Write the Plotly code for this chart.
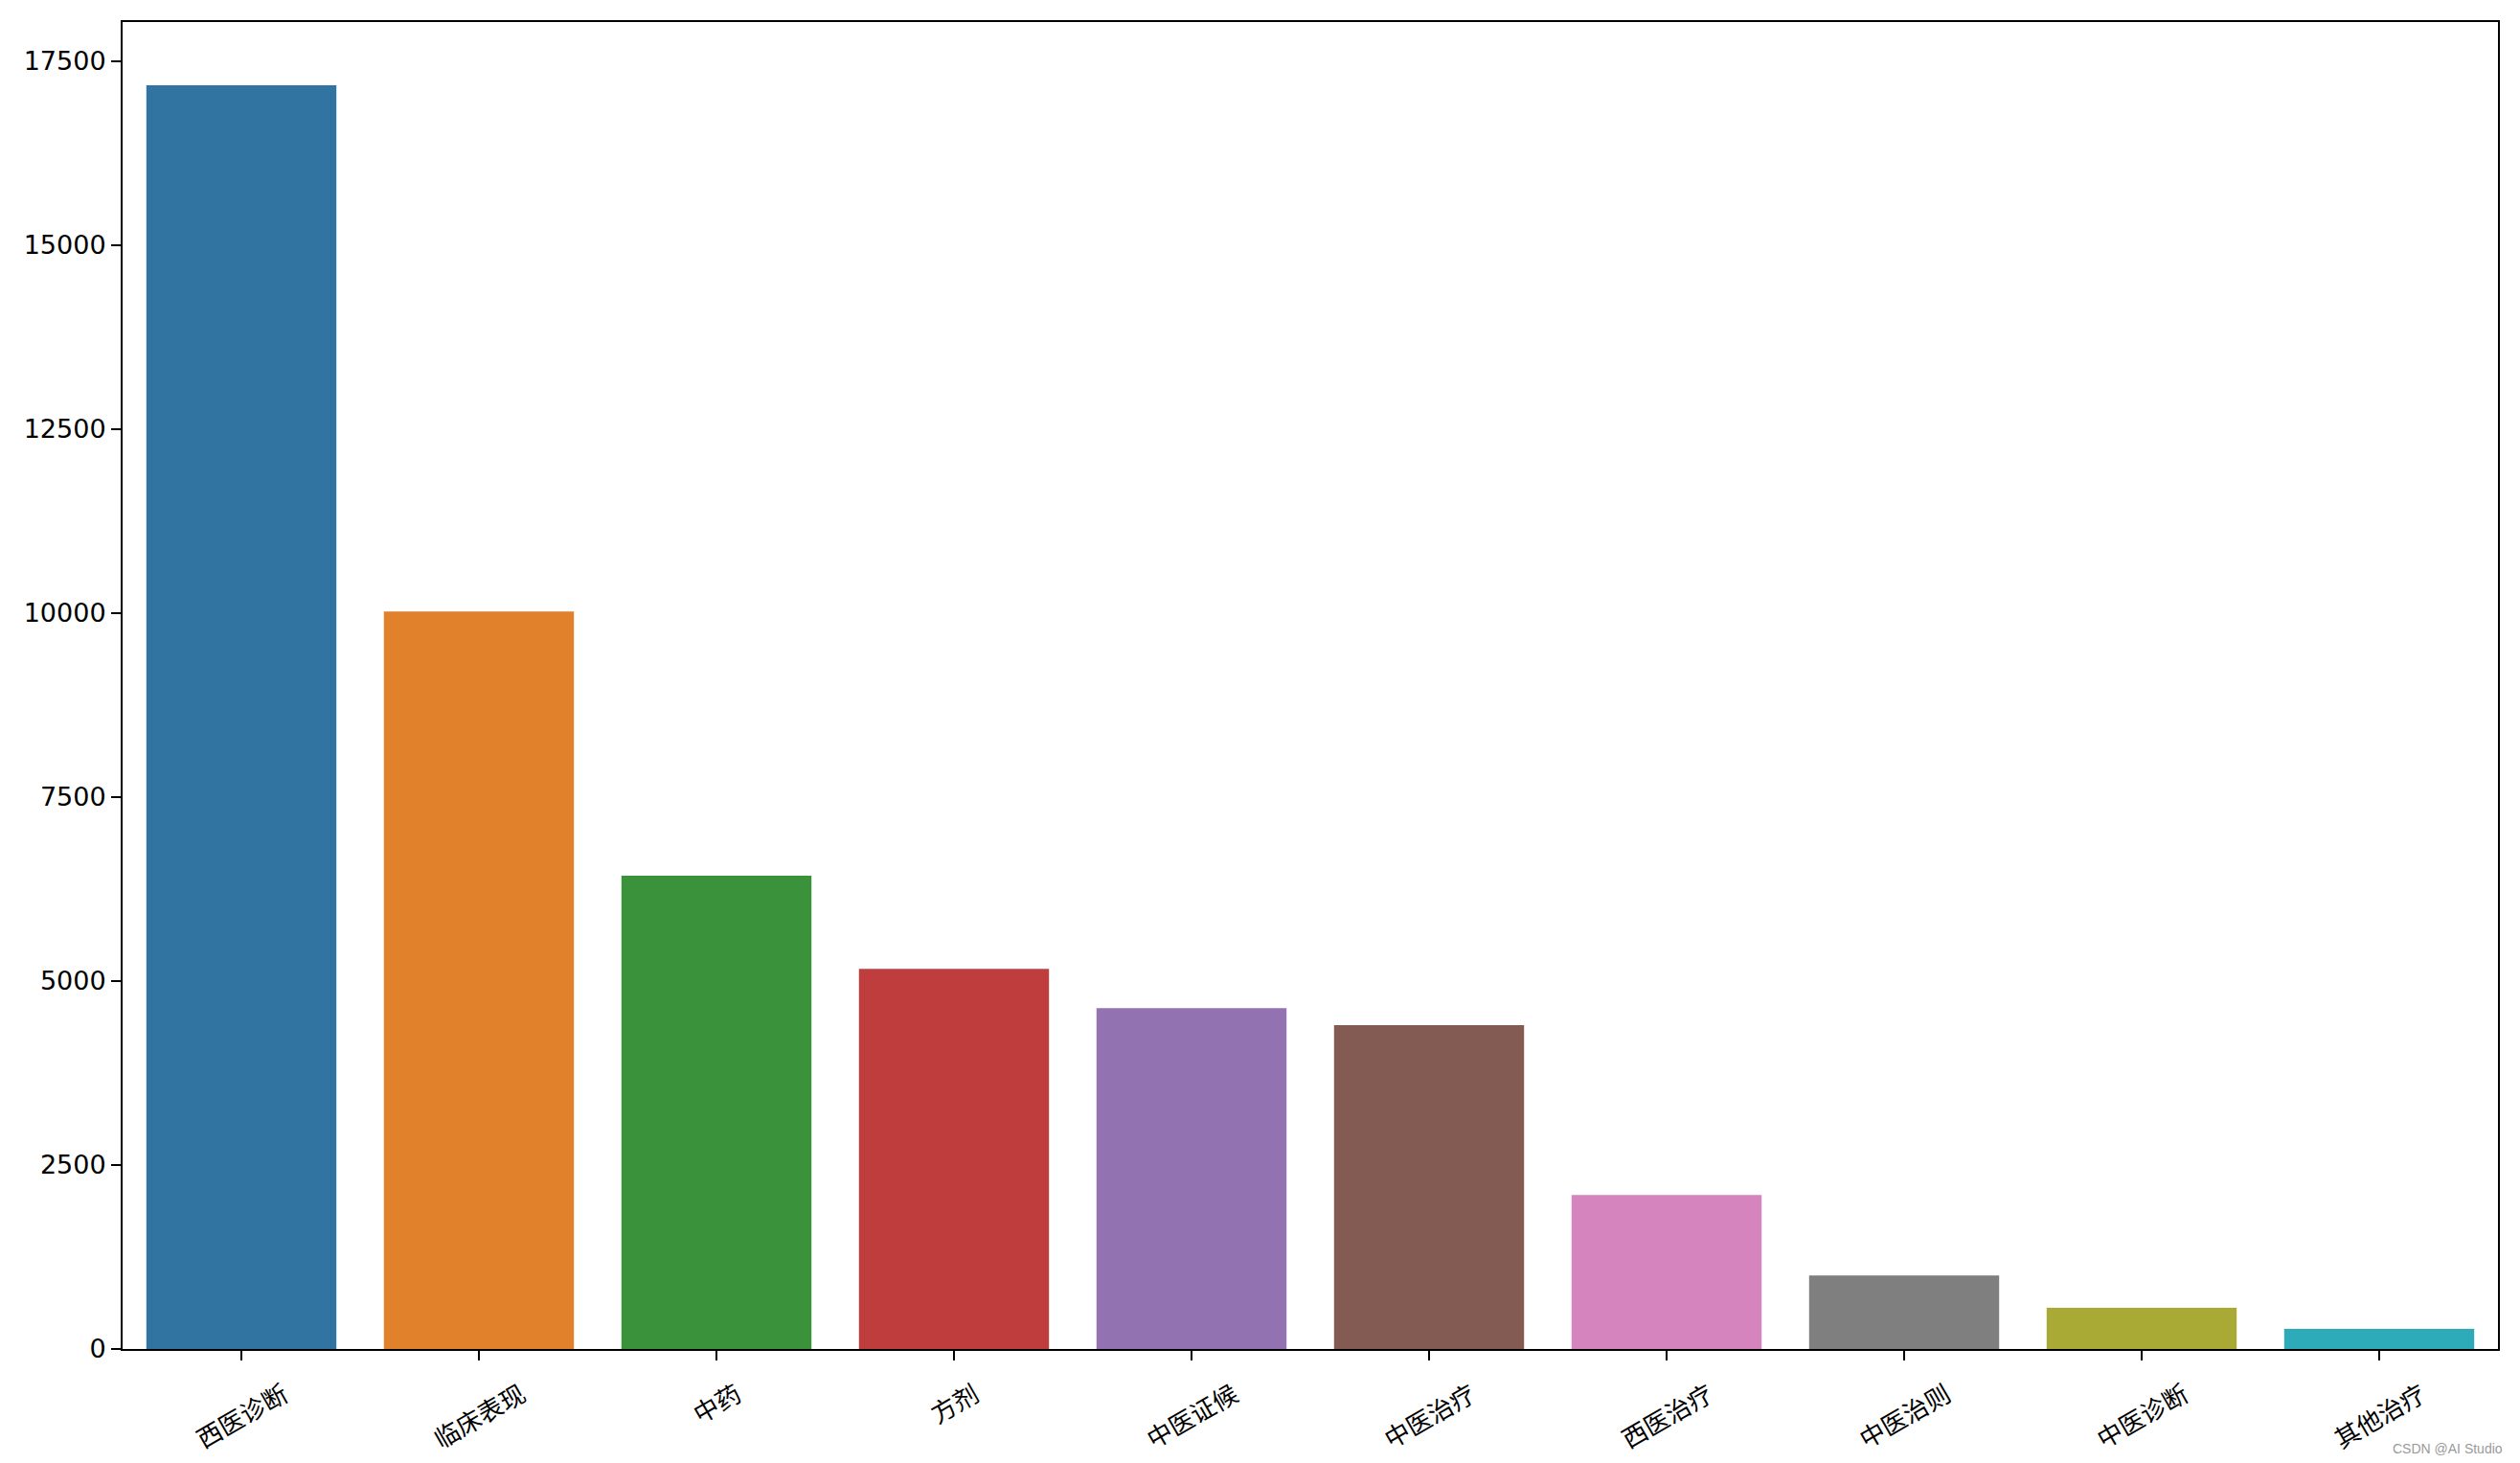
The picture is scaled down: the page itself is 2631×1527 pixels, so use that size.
import plotly.graph_objects as go

categories = ["西医诊断", "临床表现", "中药", "方剂", "中医证候", "中医治疗", "西医治疗", "中医治则", "中医诊断", "其他治疗"]
values = [17170, 10020, 6430, 5165, 4630, 4400, 2092, 1000, 560, 272]
colors = ["#3274a1", "#e1812c", "#3a923a", "#c03d3e", "#9372b2",
          "#845b53", "#d684bd", "#7f7f7f", "#a9aa35", "#2eabb8"]
ytick_vals = [0, 2500, 5000, 7500, 10000, 12500, 15000, 17500]
ytick_text = ["0", "2500", "5000", "7500", "10000", "12500", "15000", "17500"]

# page body has an 8px default margin; size the figure so the plot lands where it should
OFF = 8
W, H = 2631 - OFF, 1527 - OFF
ML, MT = 128 - OFF, 23 - OFF
PW, PH = 2480, 1385
MR, MB = W - ML - PW, H - MT - PH

xs = list(range(len(categories)))

fig = go.Figure()
fig.add_trace(go.Bar(
    x=xs, y=values, width=0.8,
    marker=dict(color=colors, line=dict(width=0)),
    showlegend=False,
))

annotations = []
for i, c in enumerate(categories):
    annotations.append(dict(
        x=i, xref="x", y=0, yref="paper",
        text=c, showarrow=False, textangle=-30,
        xanchor="center", yanchor="top", yshift=-24,
        font=dict(family="Noto Sans CJK SC", size=26, color="black"),
    ))
annotations.append(dict(
    x=(2615 - 128) / PW, xref="paper", y=(1408 - 1512) / PH, yref="paper",
    text="CSDN @AI Studio",
    showarrow=False, xanchor="right", yanchor="middle",
    font=dict(family="Liberation Sans", size=14, color="#9a9a9a"),
))

fig.update_layout(
    width=W, height=H,
    margin=dict(l=ML, r=MR, t=MT, b=MB, pad=0),
    plot_bgcolor="white", paper_bgcolor="white",
    bargap=0.2,
    annotations=annotations,
    xaxis=dict(
        range=[-0.5, len(categories) - 0.5],
        tickmode="array", tickvals=xs,
        showticklabels=False,
        ticks="outside", ticklen=10, tickwidth=2, tickcolor="black",
        showline=True, linecolor="black", linewidth=2, mirror=True,
        showgrid=False, zeroline=False,
    ),
    yaxis=dict(
        range=[0, max(values) * 1.05],
        tickmode="array", tickvals=ytick_vals, ticktext=ytick_text,
        ticks="outside", ticklen=10, tickwidth=2, tickcolor="black",
        tickfont=dict(family="DejaVu Sans", size=27, color="black"),
        showline=True, linecolor="black", linewidth=2, mirror=True,
        showgrid=False, zeroline=False,
    ),
)

fig.write_html("out.html")
